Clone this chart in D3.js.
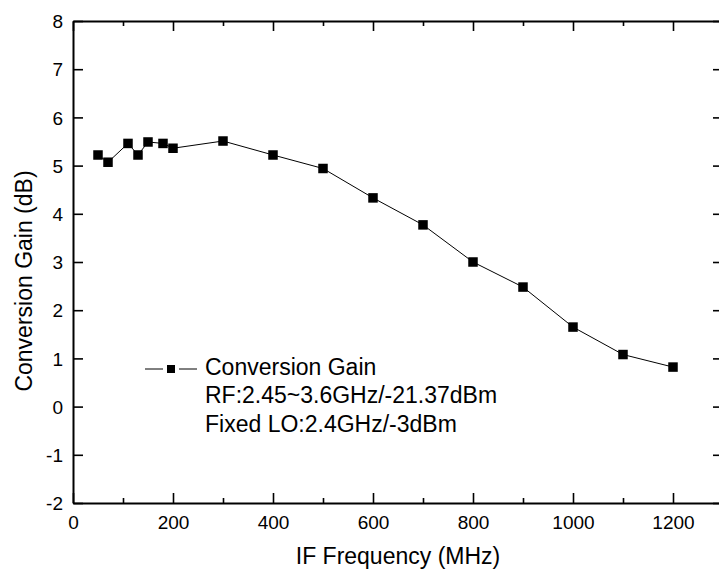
<!DOCTYPE html>
<html>
<head>
<meta charset="utf-8">
<script src="https://cdn.jsdelivr.net/npm/d3@7"></script>
<style>
  body { margin: 0; background: #fff; }
  text { font-family: "Liberation Sans", Arial, sans-serif; fill: #000; }
</style>
</head>
<body>
<div id="chart"></div>
<script>
// IF frequency (MHz) and measured conversion gain (dB)
const freqs = [50, 70, 110, 130, 150, 180, 200, 300, 400, 500, 600, 700, 800, 900, 1000, 1100, 1200];
const gains = [5.22, 5.07, 5.46, 5.22, 5.49, 5.46, 5.36, 5.51, 5.22, 4.94, 4.33, 3.77, 3.0, 2.48, 1.65, 1.08, 0.82];
const xTicks = [0, 200, 400, 600, 800, 1000, 1200];
const xMinor = [100, 300, 500, 700, 900, 1100];
const yTicks = [-2, -1, 0, 1, 2, 3, 4, 5, 6, 7, 8];
const legendLines = ["Conversion Gain", "RF:2.45~3.6GHz/-21.37dBm", "Fixed LO:2.4GHz/-3dBm"];

const W = 719, H = 570;
const margin = { top: 21, left: 73 };
const width = 650, height = 482;

const svg = d3.select("#chart").append("svg")
    .attr("width", W)
    .attr("height", H);

const g = svg.append("g")
    .attr("transform", "translate(" + margin.left + "," + margin.top + ")");

const x = d3.scaleLinear().domain([0, 1300]).range([0, width]);
const y = d3.scaleLinear().domain([-2, 8]).range([height, 0]);

// plain labels: no thousands comma, ascii hyphen for negatives
const plain = d => String(d);

// axes: ticks point inward, labels only on bottom and left
function styleAxis(sel) {
    sel.select(".domain").attr("stroke", "#000").attr("stroke-width", 2);
    sel.selectAll(".tick line").attr("stroke", "#000").attr("stroke-width", 1.6);
    sel.selectAll(".tick text")
        .style("font-family", '"Liberation Sans", Arial, sans-serif')
        .style("font-size", "19px")
        .attr("fill", "#000");
}

const axisBottom = g.append("g")
    .attr("transform", "translate(0," + height + ")")
    .call(d3.axisBottom(x).tickValues(xTicks).tickFormat(plain).tickSizeInner(-10).tickSizeOuter(0).tickPadding(0));
axisBottom.selectAll(".tick text").attr("y", 25.5).attr("dy", 0);
styleAxis(axisBottom);

g.append("g")
    .attr("transform", "translate(0," + height + ")")
    .call(d3.axisBottom(x).tickValues(xMinor).tickSize(-5).tickFormat(""))
    .call(s => s.select(".domain").remove())
    .call(styleAxis);

const axisTop = g.append("g")
    .call(d3.axisTop(x).tickValues(xTicks).tickSizeInner(-10).tickSizeOuter(0).tickFormat(""));
styleAxis(axisTop);

g.append("g")
    .call(d3.axisTop(x).tickValues(xMinor).tickSize(-5).tickFormat(""))
    .call(s => s.select(".domain").remove())
    .call(styleAxis);

const axisLeft = g.append("g")
    .call(d3.axisLeft(y).tickValues(yTicks).tickFormat(plain).tickSizeInner(-10).tickSizeOuter(0).tickPadding(0));
axisLeft.selectAll(".tick text").attr("x", -10).attr("dy", "0.35em");
styleAxis(axisLeft);

const axisRight = g.append("g")
    .attr("transform", "translate(" + width + ",0)")
    .call(d3.axisRight(y).tickValues(yTicks).tickSizeInner(-10).tickSizeOuter(0).tickFormat(""));
styleAxis(axisRight);

// data line and markers
const pts = freqs.map((f, i) => ({ f: f, v: gains[i] }));

g.append("path")
    .datum(pts)
    .attr("fill", "none")
    .attr("stroke", "#000")
    .attr("stroke-width", 1)
    .attr("d", d3.line().x(d => x(d.f)).y(d => y(d.v)));

const ms = 9.5;
g.selectAll("rect.pt")
    .data(pts)
    .enter().append("rect")
    .attr("class", "pt")
    .attr("x", d => x(d.f) - ms / 2)
    .attr("y", d => y(d.v) - ms / 2)
    .attr("width", ms)
    .attr("height", ms)
    .attr("fill", "#000");

// axis titles
svg.append("text")
    .attr("x", margin.left + width / 2)
    .attr("y", 564)
    .attr("text-anchor", "middle")
    .style("font-size", "23px")
    .text("IF Frequency (MHz)");

svg.append("text")
    .attr("transform", "translate(31.5,281) rotate(-90)")
    .attr("text-anchor", "middle")
    .style("font-size", "23px")
    .text("Conversion Gain (dB)");

// legend: line broken around the marker
const lg = svg.append("g");
[[145, 163], [179, 197]].forEach(function (seg) {
    lg.append("line")
        .attr("x1", seg[0]).attr("x2", seg[1])
        .attr("y1", 369).attr("y2", 369)
        .attr("stroke", "#000").attr("stroke-width", 1);
});
lg.append("rect")
    .attr("x", 171 - 4).attr("y", 369 - 4)
    .attr("width", 8).attr("height", 8)
    .attr("fill", "#000");
lg.selectAll("text")
    .data(legendLines)
    .enter().append("text")
    .attr("x", 205)
    .attr("y", (d, i) => 375 + i * 28.3)
    .style("font-size", "23px")
    .text(d => d);
</script>
</body>
</html>
